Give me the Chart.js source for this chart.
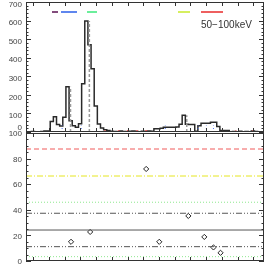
<!DOCTYPE html>
<html>
<head>
<meta charset="utf-8">
<script src="https://cdn.jsdelivr.net/npm/chart.js@4.4.1/dist/chart.umd.min.js"></script>
<style>
  html, body { margin: 0; padding: 0; background: #fff; }
  #wrap { position: relative; width: 266px; height: 266px; overflow: hidden; }
  canvas { position: absolute; left: 0; }
  #histChart { top: 0; }
  #levelChart { top: 126px; }
</style>
</head>
<body>
<div id="wrap">
  <canvas id="histChart" width="266" height="137"></canvas>
  <canvas id="levelChart" width="266" height="140"></canvas>
</div>
<script>
// ---- data ----
const timeMin = 32, timeMax = 941;       // visible time range (s)
const binStart = 28.5, binWidth = 12;    // histogram bins (s)
const counts = [
  2, 2, 1, 3, 2, 2, 3, 6, 6, 56,
  82, 40, 32, 80, 243, 60, 34, 26, 44, 260,
  598, 470, 340, 140, 43, 22, 12, 8, 4, 3,
  2, 5, 3, 2, 4, 6, 3, 2, 4, 3,
  5, 4, 18, 18, 20, 25, 25, 26, 26, 27,
  42, 90, 42, 40, 40, 4, 33, 47, 47, 47,
  52, 52, 29, 8, 8, 8, 2, 3, 1, 4,
  2, 3, 2, 5, 3, 2
];
// faint red trace along the baseline (high-energy band)
const hardCounts = [
  0, 0, 0, 0, 0, 0, 0, 0, 0, 0,
  0, 0, 0, 0, 0, 0, 0, 0, 0, 0,
  0, 0, 0, 0, 0, 0, 6, 0, 0, 0,
  7, 0, 0, 8, 0, 0, 7, 0, 0, 8,
  0, 0, 0, 0, 0, 0, 0, 0, 0, 0,
  0, 0, 0, 0, 0, 0, 0, 0, 0, 0,
  0, 0, 0, 0, 0, 0, 0, 0, 7, 0,
  0, 0, 0, 6, 0, 0
];
const peakTimes = [202, 274, 646];               // grey dashed markers
const flagTimes = [170, 243, 564, 690, 721, 748]; // short blue dotted markers
const flagHeight = 35;
const countTicks = [0, 100, 200, 300, 400, 500, 600, 700];

const pointTimes = [204, 277, 491, 541, 652, 713, 748, 775];
const pointValues = [15, 22.7, 71.9, 15, 35.2, 18.8, 10.6, 6.4];
const levelValues = [87.5, 66.4, 45.9, 37.3, 24.2, 11.2, 3.4];
const levelTicks = [0, 20, 40, 60, 80, 100];

const legendLabel = '50\u2212100keV';

// ---- styles ----
const levelStyles = [
  { color: '#f05a5a', dash: [5, 3] },
  { color: '#e6e620', dash: [6, 2, 1, 2] },
  { color: '#8ee88e', dash: [1, 2] },
  { color: '#555555', dash: [6, 2, 1, 2, 1, 2] },
  { color: '#555555', dash: [] },
  { color: '#555555', dash: [6, 2, 1, 2, 1, 2] },
  { color: '#8ee88e', dash: [1, 2] }
];
const legendMarks = [
  { color: '#5a1050', from: 26, to: 32 },
  { color: '#2a5ee8', from: 35, to: 51 },
  { color: '#3ae87a', from: 61, to: 71 },
  { color: '#c8ea2a', from: 152, to: 164 },
  { color: '#e82a2a', from: 175, to: 197 }
];
const FONT = { family: 'Liberation Sans, Arial, sans-serif', size: 8, lineHeight: 1.6 };

function countAt(t) {
  return counts[Math.floor((t - binStart) / binWidth)];
}

// frame with inward ticks on all four sides (IDL look)
const framePlugin = {
  id: 'frame',
  afterDatasetsDraw(chart, args, opts) {
    const { ctx, chartArea: a, scales: { x, y } } = chart;
    ctx.save();
    ctx.strokeStyle = '#333';
    ctx.lineWidth = 1;
    ctx.strokeRect(a.left + 0.5, a.top + 0.5, a.right - a.left - 1, a.bottom - a.top - 1);
    ctx.beginPath();
    for (let v = y.min; v <= y.max + 1e-6; v += opts.yMinor) {
      const p = Math.round(y.getPixelForValue(v)) + 0.5;
      const major = Math.abs(v / opts.yMajor - Math.round(v / opts.yMajor)) < 1e-6;
      const len = major ? 5 : 2.5;
      ctx.moveTo(a.left, p); ctx.lineTo(a.left + len, p);
      ctx.moveTo(a.right, p); ctx.lineTo(a.right - len, p);
    }
    for (let v = Math.ceil(x.min / opts.xMajor) * opts.xMajor; v <= x.max; v += opts.xMajor) {
      const p = Math.round(x.getPixelForValue(v)) + 0.5;
      ctx.moveTo(p, a.top); ctx.lineTo(p, a.top + 4);
      ctx.moveTo(p, a.bottom); ctx.lineTo(p, a.bottom - 4);
    }
    ctx.stroke();
    ctx.restore();
  }
};

// colour bars + energy label at the top of the histogram
const bandLegend = {
  id: 'bandLegend',
  afterDraw(chart) {
    const { ctx, chartArea: a } = chart;
    ctx.save();
    ctx.lineWidth = 1.5;
    const yy = a.top + 10;
    legendMarks.forEach(m => {
      ctx.strokeStyle = m.color;
      ctx.beginPath();
      ctx.moveTo(a.left + m.from, yy);
      ctx.lineTo(a.left + m.to, yy);
      ctx.stroke();
    });
    ctx.fillStyle = '#333';
    ctx.font = '10px Liberation Sans, Arial, sans-serif';
    ctx.textBaseline = 'alphabetic';
    ctx.fillText(legendLabel, a.left + 175, a.top + 25.5);
    ctx.restore();
  }
};

function yAxis(min, max, tickValues, labelOffset, cb) {
  return {
    min: min, max: max,
    afterFit(s) { s.width = 26; s.paddingTop = 0; s.paddingBottom = 0; },
    afterBuildTicks(s) { s.ticks = tickValues.map(v => ({ value: v })); },
    grid: { display: false, drawTicks: false },
    border: { display: false },
    ticks: { autoSkip: false, padding: 4, color: '#444', font: FONT, labelOffset: labelOffset, callback: cb }
  };
}

const xAxis = { type: 'linear', min: timeMin, max: timeMax, display: false };

// histogram data (stepped line through bin edges)
function stepData(values) {
  const d = values.map((c, i) => ({ x: binStart + i * binWidth, y: c }));
  d.push({ x: binStart + values.length * binWidth, y: values[values.length - 1] });
  return d;
}

const peakData = [];
peakTimes.forEach(t => { peakData.push({ x: t, y: 0 }, { x: t, y: countAt(t) }, { x: t, y: null }); });
const flagData = [];
flagTimes.forEach(t => { flagData.push({ x: t, y: 0 }, { x: t, y: flagHeight }, { x: t, y: null }); });

new Chart(document.getElementById('histChart'), {
  type: 'line',
  data: {
    datasets: [
      { data: flagData, borderColor: '#5577ee', borderWidth: 1, borderDash: [1, 2], pointRadius: 0, spanGaps: false },
      { data: peakData, borderColor: '#9a9a9a', borderWidth: 1.5, borderDash: [3, 2], pointRadius: 0, spanGaps: false },
      { data: stepData(hardCounts), stepped: 'after', borderColor: '#e05a5a', borderWidth: 1, borderDash: [2, 2], pointRadius: 0 },
      { data: stepData(counts), stepped: 'after', borderColor: '#2a2a2a', borderWidth: 1.5, pointRadius: 0 }
    ]
  },
  options: {
    responsive: false,
    animation: false,
    layout: { autoPadding: false, padding: { left: 0, right: 2, top: 2, bottom: 5 } },
    scales: {
      x: xAxis,
      y: yAxis(0, 700, countTicks, 2.5, v => v === 0 ? ['0', ''] : String(v))
    },
    plugins: {
      legend: { display: false },
      tooltip: { enabled: false },
      frame: { yMinor: 20, yMajor: 100, xMajor: 60 }
    }
  },
  plugins: [framePlugin, bandLegend]
});

const levelSets = levelValues.map((v, i) => ({
  data: [{ x: timeMin, y: v }, { x: timeMax, y: v }],
  borderColor: levelStyles[i].color,
  borderDash: levelStyles[i].dash,
  borderWidth: 1,
  pointRadius: 0
}));

new Chart(document.getElementById('levelChart'), {
  type: 'line',
  data: {
    datasets: levelSets.concat([{
      data: pointTimes.map((t, i) => ({ x: t, y: pointValues[i] })),
      showLine: false,
      pointStyle: 'rectRot',
      pointRadius: 2.6,
      pointBorderWidth: 1,
      pointBorderColor: '#222',
      pointBackgroundColor: 'rgba(0,0,0,0)'
    }])
  },
  options: {
    responsive: false,
    animation: false,
    layout: { autoPadding: false, padding: { left: 0, right: 2, top: 7, bottom: 5 } },
    scales: {
      x: xAxis,
      y: yAxis(0, 100, levelTicks, 1, v => String(v))
    },
    plugins: {
      legend: { display: false },
      tooltip: { enabled: false },
      frame: { yMinor: 5, yMajor: 20, xMajor: 60 }
    }
  },
  plugins: [framePlugin]
});
</script>
</body>
</html>
